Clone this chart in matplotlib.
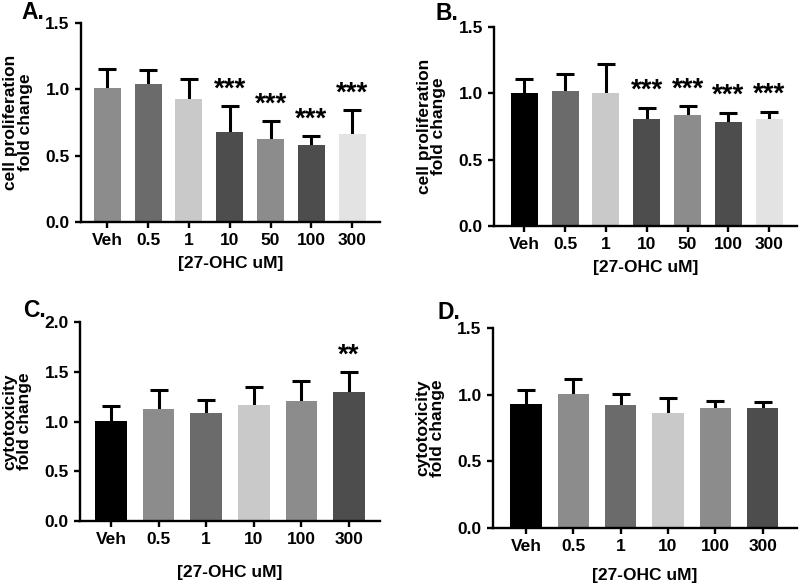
import matplotlib
matplotlib.use('Agg')
import matplotlib.pyplot as plt
import numpy as np

plt.rcParams['font.family'] = ['Liberation Sans', 'DejaVu Sans']
plt.rcParams['font.weight'] = 'bold'

doses_prolif = ['Veh', '0.5', '1', '10', '50', '100', '300']
doses_cyto = ['Veh', '0.5', '1', '10', '100', '300']

# A. cell proliferation
a_mean = [1.01, 1.04, 0.93, 0.68, 0.625, 0.578, 0.663]
a_err = [0.145, 0.105, 0.148, 0.193, 0.137, 0.071, 0.18]
a_sig = ['', '', '', '***', '***', '***', '***']
a_colors = ['#8c8c8c', '#6b6b6b', '#c9c9c9', '#4d4d4d', '#8c8c8c', '#4d4d4d', '#e3e3e3']

# B. cell proliferation
b_mean = [1.0, 1.02, 1.005, 0.804, 0.834, 0.786, 0.804]
b_err = [0.106, 0.124, 0.217, 0.088, 0.068, 0.068, 0.057]
b_sig = ['', '', '', '***', '***', '***', '***']
b_colors = ['#000000', '#6b6b6b', '#c9c9c9', '#4d4d4d', '#8c8c8c', '#4d4d4d', '#e3e3e3']

# C. cytotoxicity
c_mean = [1.007, 1.128, 1.084, 1.161, 1.205, 1.295]
c_err = [0.151, 0.191, 0.131, 0.188, 0.201, 0.198]
c_sig = ['', '', '', '', '', '**']
c_colors = ['#000000', '#8c8c8c', '#6b6b6b', '#c9c9c9', '#8c8c8c', '#4d4d4d']

# D. cytotoxicity
d_mean = [0.927, 1.002, 0.92, 0.865, 0.90, 0.90]
d_err = [0.106, 0.118, 0.088, 0.112, 0.05, 0.042]
d_sig = ['', '', '', '', '', '']
d_colors = ['#000000', '#8c8c8c', '#6b6b6b', '#c9c9c9', '#8c8c8c', '#4d4d4d']


def bar_panel(ax, labels, mean, err, sig, colors, ymax, ylabel, xlim, xpad):
    x = np.arange(len(labels))
    ax.bar(x, mean, width=0.66, color=colors, linewidth=0, zorder=2)
    eb = ax.errorbar(x, mean, yerr=[np.zeros(len(err)), err], fmt='none',
                     ecolor='black', elinewidth=2.2, capsize=6.5, capthick=2.2, zorder=1)
    eb[1][0].set_visible(False)  # no lower cap
    for xi, m, e, s in zip(x, mean, err, sig):
        if s:
            ax.annotate(s, (xi, m + e), xytext=(0, 7), textcoords='offset points',
                        ha='center', va='baseline', fontsize=20, fontweight='bold')
    ax.set_xlim(*xlim)
    ax.set_ylim(0, ymax)
    ticks = np.arange(0, ymax + 0.01, 0.5)
    ax.set_yticks(ticks)
    ax.set_yticklabels(['%.1f' % v for v in ticks])
    ax.set_xticks(x)
    ax.set_xticklabels(labels)
    ax.spines['top'].set_visible(False)
    ax.spines['right'].set_visible(False)
    ax.spines['left'].set_linewidth(1.7)
    ax.spines['bottom'].set_linewidth(1.7)
    ax.tick_params(axis='both', direction='out', length=4, width=1.7,
                   labelsize=12.5, pad=4)
    ax.set_ylabel(ylabel, fontsize=12.5, fontweight='bold', linespacing=0.95, labelpad=9)
    ax.set_xlabel('[27-OHC uM]', fontsize=12.5, fontweight='bold', labelpad=xpad)


fig = plt.figure(figsize=(8, 5.88), dpi=100)

ax_a = fig.add_axes([0.101, 0.6224, 0.374, 0.3385])
ax_b = fig.add_axes([0.6175, 0.6156, 0.3788, 0.3384])
ax_c = fig.add_axes([0.100, 0.1139, 0.375, 0.3385])
ax_d = fig.add_axes([0.616, 0.102, 0.380, 0.340])

bar_panel(ax_a, doses_prolif, a_mean, a_err, a_sig, a_colors, 1.5,
          'cell proliferation\nfold change', (-0.65, 6.68), 6)
bar_panel(ax_b, doses_prolif, b_mean, b_err, b_sig, b_colors, 1.5,
          'cell proliferation\nfold change', (-0.74, 6.68), 6)
bar_panel(ax_c, doses_cyto, c_mean, c_err, c_sig, c_colors, 2.0,
          'cytotoxicity\nfold change', (-0.65, 5.65), 13)
bar_panel(ax_d, doses_cyto, d_mean, d_err, d_sig, d_colors, 1.5,
          'cytotoxicity\nfold change', (-0.70, 5.72), 10)

# panel letters
fig.text(0.041, 0.979, 'A.', fontsize=16.5, fontweight='bold', ha='center', va='center')
fig.text(0.559, 0.977, 'B.', fontsize=16.5, fontweight='bold', ha='center', va='center')
fig.text(0.0425, 0.472, 'C.', fontsize=16.5, fontweight='bold', ha='center', va='center')
fig.text(0.561, 0.468, 'D.', fontsize=16.5, fontweight='bold', ha='center', va='center')

plt.savefig('out.png', dpi=100)
plt.close()
